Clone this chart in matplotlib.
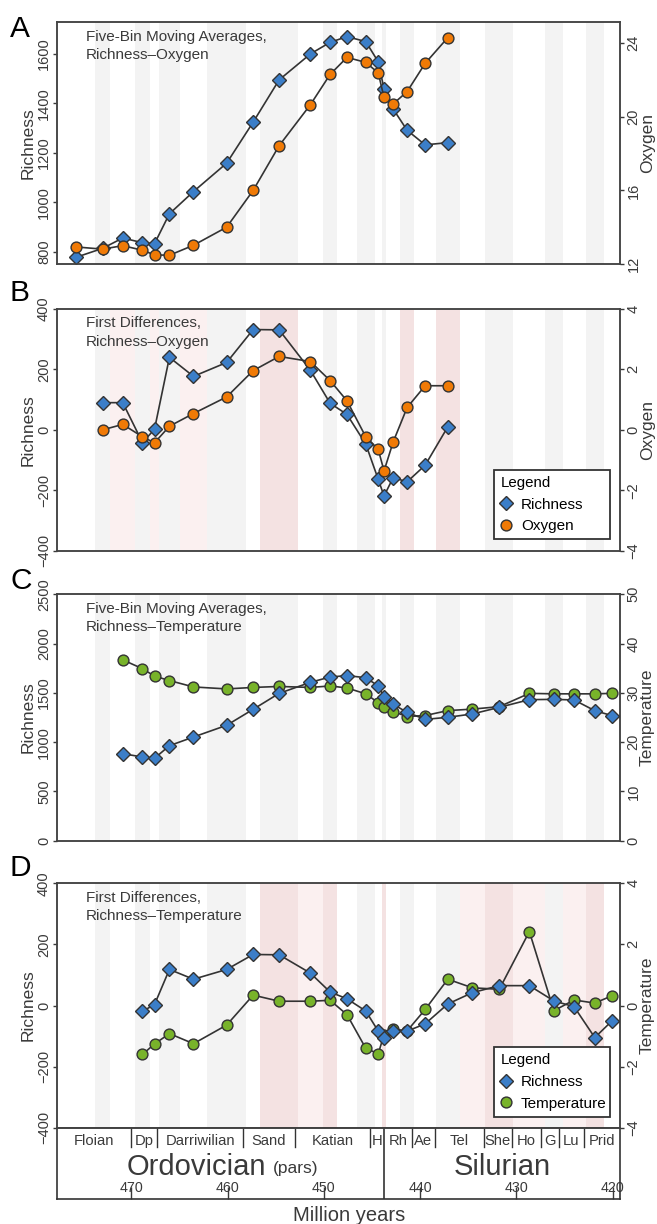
import matplotlib
matplotlib.use("Agg")
import matplotlib.pyplot as plt
from matplotlib.lines import Line2D

plt.rcParams['font.family'] = ['Liberation Sans', 'DejaVu Sans']

# time bins (Ma); data points sit at the bin mid-points
bin_edges = [477.7, 473.8, 472.2, 469.6, 468.1, 467.1, 465.0, 462.1, 458.1, 456.6,
             452.7, 450.1, 448.6, 446.6, 444.7, 444.0, 443.5, 442.1, 440.6, 438.35,
             435.9, 433.25, 430.3, 427.0, 425.2, 422.8, 420.9, 419.2]
bin_mid = [(a + b) / 2 for a, b in zip(bin_edges[:-1], bin_edges[1:])]

# stages for the time scale
stage_edges = [477.7, 470.0, 467.3, 458.4, 453.0, 445.2, 443.8, 440.8, 438.5,
               433.4, 430.5, 427.4, 425.6, 423.0, 419.2]
stage_names = ['Floian', 'Dp', 'Darriwilian', 'Sand', 'Katian', 'H', 'Rh', 'Ae',
               'Tel', 'She', 'Ho', 'G', 'Lu', 'Prid']
age_ticks = [470, 460, 450, 440, 430, 420]

# A: five-bin moving averages, richness / oxygen (bins 0-19)
rich_A = [777, 813, 855, 836, 832, 953, 1043, 1158, 1324, 1495, 1600, 1647, 1670,
          1650, 1568, 1458, 1377, 1291, 1232, 1241]
oxy_A = [12.94, 12.82, 13.01, 12.76, 12.51, 12.49, 13.03, 14.01, 16.0, 18.42, 20.64,
         22.28, 23.2, 22.93, 22.36, 21.03, 20.68, 21.35, 22.88, 24.27]

# B: first differences, richness / oxygen (bins 1-19)
rich_B = [90, 90, -42, 2, 240, 177, 223, 332, 331, 197, 88, 51, -47, -164, -219,
          -158, -172, -117, 10]
oxy_B = [0.0, 0.18, -0.23, -0.43, 0.12, 0.54, 1.09, 1.96, 2.43, 2.26, 1.63, 0.96,
         -0.23, -0.65, -1.36, -0.40, 0.74, 1.46, 1.46]

# C: five-bin moving averages, richness / temperature (bins 2-26)
rich_C = [883, 849, 836, 964, 1052, 1171, 1333, 1495, 1607, 1661, 1675, 1654, 1570,
          1461, 1384, 1302, 1231, 1252, 1286, 1353, 1431, 1434, 1428, 1319, 1269]
temp_C = [36.7, 34.9, 33.4, 32.5, 31.2, 30.8, 31.1, 31.3, 31.1, 31.4, 31.0, 29.8,
          28.0, 27.1, 26.2, 25.2, 25.4, 26.4, 26.7, 27.2, 29.9, 29.8, 29.8, 29.8, 29.9]

# D: first differences, richness / temperature (bins 3-26)
rich_D = [-19, 3, 118, 86, 118, 167, 166, 106, 44, 22, -18, -84, -105, -84, -84,
          -60, 5, 42, 65, 65, 15, -4, -105, -50]
temp_D = [-1.60, -1.26, -0.92, -1.25, -0.64, 0.34, 0.14, 0.14, 0.17, -0.30, -1.40,
          -1.58, -0.95, -0.77, -0.83, -0.13, 0.86, 0.58, 0.53, 2.42, -0.17, 0.18,
          0.08, 0.32]

# background shading: odd bins grey, some bins tinted pink (p light, P darker)
shade_B = {2: 'p', 4: 'p', 6: 'p', 9: 'P', 17: 'P', 19: 'P'}
shade_D = {9: 'P', 10: 'p', 11: 'P', 15: 'P', 20: 'p', 21: 'P', 22: 'p', 24: 'p', 25: 'P'}

band_col = {'g': '#f3f3f3', 'p': '#fbf0f0', 'P': '#f4e2e2'}
BLUE, ORANGE, GREEN = '#3b7ec8', '#f07a06', '#78b32a'
LINE, EDGE, TXT = '#333333', '#333333', '#3a3a3a'
XLIM = (477.7, 419.2)

fig = plt.figure(figsize=(6.57, 12.24), dpi=100)
L, W = 57.3 / 657, 563 / 657


def rect(top, bottom):
    return [L, 1 - bottom / 1224, W, (bottom - top) / 1224]


def series(ax, start, vals, marker, color, ms, z):
    x = bin_mid[start:start + len(vals)]
    ax.plot(x, vals, '-', color=LINE, lw=1.2, marker=marker, ms=ms, mfc=color,
            mec=EDGE, mew=1.0, zorder=z)


def panel(r, letter, letter_y, note, rich, r0, other, o0, ocol, oname,
          ylim_l, yt_l, ylim_r, yt_r, shade, rich_on_top, legend=None):
    ax = fig.add_axes(r)
    ax2 = ax.twinx()
    if rich_on_top:
        ax.set_zorder(ax2.get_zorder() + 1)
        ax.patch.set_visible(False)
        low, top = ax2, ax
    else:
        low, top = ax, ax2
    for i in range(len(bin_mid)):
        kind = shade.get(i, 'g' if i % 2 else None)
        if kind:
            low.axvspan(bin_edges[i], bin_edges[i + 1], color=band_col[kind], lw=0, zorder=0)
    series(ax, r0, rich, 'D', BLUE, 7.0, 3)
    series(ax2, o0, other, 'o', ocol, 7.8, 3)
    ax.set_xlim(XLIM)
    ax.set_xticks([])
    ax.set_ylim(ylim_l)
    ax.set_yticks(yt_l)
    ax2.set_ylim(ylim_r)
    ax2.set_yticks(yt_r)
    for a in (ax, ax2):
        a.tick_params(axis='y', labelrotation=90, length=3, width=1, pad=1.5,
                      labelsize=10.5, colors=TXT)
        for lab in a.get_yticklabels():
            lab.set_va('center')
        for s in a.spines.values():
            s.set_color('#444444')
            s.set_linewidth(1.1)
    ax.set_ylabel('Richness', fontsize=12.5, color=TXT, labelpad=1)
    ax2.set_ylabel(oname, fontsize=12.5, color=TXT, rotation=90)
    ax2.yaxis.set_label_coords((640 - 57.3) / 563, 0.5)
    top.text(0.051, 0.97, note, transform=top.transAxes, va='top', ha='left',
             fontsize=11, color=TXT, linespacing=1.4, zorder=6)
    fig.text(10 / 657, 1 - letter_y / 1224, letter, fontsize=21.5, va='baseline', ha='left')
    if legend:
        h = [Line2D([], [], ls='none', marker='D', ms=7.0, mfc=BLUE, mec=EDGE, mew=1.0),
             Line2D([], [], ls='none', marker='o', ms=7.8, mfc=ocol, mec=EDGE, mew=1.0)]
        lg = top.legend(h, ['Richness', oname], title='Legend', loc='lower left',
                        bbox_to_anchor=legend, mode='expand', borderaxespad=0,
                        fancybox=False, framealpha=1, edgecolor='#333333',
                        fontsize=11, title_fontsize=10.8, alignment='left',
                        handlelength=0.8, handletextpad=0.55, labelspacing=0.5,
                        borderpad=0.4)
        lg.get_frame().set_linewidth(1.3)
        lg.set_zorder(10)
    return ax


panel(rect(22.3, 264.3), 'A', 36.7, 'Five-Bin Moving Averages,\nRichness\u2013Oxygen',
      rich_A, 0, oxy_A, 0, ORANGE, 'Oxygen', (748.6, 1728), [800, 1000, 1200, 1400, 1600],
      (12.0, 25.1), [12, 16, 20, 24], {}, False)
panel(rect(309, 550.7), 'B', 300.7, 'First Differences,\nRichness\u2013Oxygen',
      rich_B, 1, oxy_B, 1, ORANGE, 'Oxygen', (-400, 400), [-400, -200, 0, 200, 400],
      (-4, 4), [-4, -2, 0, 2, 4], shade_B, False, legend=(0.776, 0.047, 0.205, 0.2))
panel(rect(594.3, 840.7), 'C', 589.3, 'Five-Bin Moving Averages,\nRichness\u2013Temperature',
      rich_C, 2, temp_C, 2, GREEN, 'Temperature', (0, 2500), [0, 500, 1000, 1500, 2000, 2500],
      (0, 50), [0, 10, 20, 30, 40, 50], {}, True)
panel(rect(883.3, 1127.7), 'D', 876, 'First Differences,\nRichness\u2013Temperature',
      rich_D, 3, temp_D, 3, GREEN, 'Temperature', (-400, 400), [-400, -200, 0, 200, 400],
      (-4, 4), [-4, -2, 0, 2, 4], shade_D, True, legend=(0.776, 0.045, 0.205, 0.2))

# geological time scale strip
ts = fig.add_axes(rect(1127.7, 1199.3))
ts.set_xlim(XLIM)
ts.set_ylim(0, 1)
ts.set_yticks([])
for s in ts.spines.values():
    s.set_color('#333333')
    s.set_linewidth(1.2)
for e in stage_edges[1:-1]:
    if e == 443.8:
        ts.axvline(e, color='#333333', lw=1.2)
    else:
        ts.plot([e, e], [0.735, 1], color='#333333', lw=1.0)
for a, b, name in zip(stage_edges[:-1], stage_edges[1:], stage_names):
    ts.text((a + b) / 2, 0.815, name, ha='center', va='center', fontsize=10.6, color=TXT)
ts.text(463.3, 0.45, 'Ordovician', ha='center', va='center', fontsize=21, color=TXT)
ts.text(452.9, 0.43, '(pars)', ha='center', va='center', fontsize=12.5, color=TXT)
ts.text((443.8 + 419.2) / 2, 0.45, 'Silurian', ha='center', va='center', fontsize=21, color=TXT)
ts.set_xticks(age_ticks)
ts.tick_params(axis='x', direction='in', length=9, width=1, pad=-13, labelsize=10.3,
               colors=TXT)
ts.text((349 - 57.3) / 563, -0.22, 'Million years', transform=ts.transAxes,
        ha='center', va='center', fontsize=14.5, color=TXT)

fig.savefig('out.png', dpi=100)
